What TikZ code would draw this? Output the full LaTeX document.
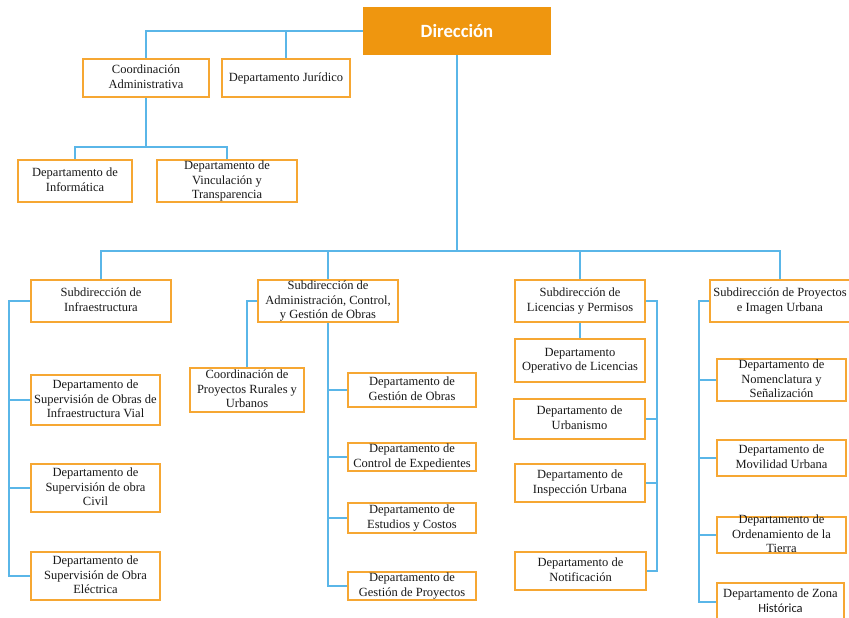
\documentclass[tikz,border=0pt]{standalone}
\usepackage{fontspec}
\newfontfamily\carlito{Carlito}
\newfontfamily\boxserif{Liberation Serif}
\definecolor{dirorange}{HTML}{EF960F}
\definecolor{boxorange}{HTML}{F6A733}
\definecolor{linkblue}{HTML}{5AB6E8}
\newcommand\tx[1]{\smash{\raisebox{-0.25em}{\begin{tabular}{@{}c@{}}#1\end{tabular}}}}
\tikzset{
  box/.style={draw=boxorange, line width=2pt, fill=white, rectangle, inner sep=0pt,
    font=\boxserif\fontsize{12.5}{14.5}\selectfont, text=black!90},
  conn/.style={draw=linkblue, line width=2pt},
  dirbox/.style={fill=dirorange, rectangle, inner sep=0pt, text=white,
    font=\carlito\bfseries\fontsize{18.7}{20}\selectfont},
}
\begin{document}
\begin{tikzpicture}[x=1pt,y=-1pt]
\useasboundingbox (0,0) rectangle (849,618);
\clip (0,0) rectangle (849,618);
% top level
\node[dirbox, minimum width=188pt, minimum height=48pt] (dir) at (457,31) {Dirección};
\node[box, minimum width=126pt, minimum height=38pt] (coord) at (146,78) {\tx{Coordinación\\Administrativa}};
\node[box, minimum width=128pt, minimum height=38pt] (jur) at (286,78) {\tx{Departamento Jurídico}};
\node[box, minimum width=114pt, minimum height=42pt] (info) at (75,181) {\tx{Departamento de\\Informática}};
\node[box, minimum width=140pt, minimum height=42pt] (vinc) at (227,181) {\tx{Departamento de\\Vinculación y\\Transparencia}};
% subdirecciones
\node[box, minimum width=140pt, minimum height=42pt] (infra) at (101,301) {\tx{Subdirección de\\Infraestructura}};
\node[box, minimum width=140pt, minimum height=42pt] (subadm) at (328,301) {\tx{Subdirección de\\Administración, Control,\\y Gestión de Obras}};
\node[box, minimum width=130pt, minimum height=42pt] (sublic) at (580,301) {\tx{Subdirección de\\Licencias y Permisos}};
\node[box, minimum width=140pt, minimum height=42pt] (subproy) at (780,301) {\tx{Subdirección de Proyectos\\e Imagen Urbana}};
% infraestructura
\node[box, minimum width=129pt, minimum height=50pt] (vial) at (95.5,400) {\tx{Departamento de\\Supervisión de Obras de\\Infraestructura Vial}};
\node[box, minimum width=129pt, minimum height=48pt] (civil) at (95.5,488) {\tx{Departamento de\\Supervisión de obra\\Civil}};
\node[box, minimum width=129pt, minimum height=48pt] (elec) at (95.5,576) {\tx{Departamento de\\Supervisión de Obra\\Eléctrica}};
% administracion
\node[box, minimum width=114pt, minimum height=44pt] (cproy) at (247,390) {\tx{Coordinación de\\Proyectos Rurales y\\Urbanos}};
\node[box, minimum width=128pt, minimum height=34pt] (gobras) at (412,390) {\tx{Departamento de\\Gestión de Obras}};
\node[box, minimum width=128pt, minimum height=28pt] (cexp) at (412,457) {\tx{Departamento de\\Control de Expedientes}};
\node[box, minimum width=128pt, minimum height=30pt] (ecost) at (412,518) {\tx{Departamento de\\Estudios y Costos}};
\node[box, minimum width=128pt, minimum height=28pt] (gproy) at (412,586) {\tx{Departamento de\\Gestión de Proyectos}};
% licencias
\node[box, minimum width=130pt, minimum height=43pt] (oper) at (580,360.5) {\tx{Departamento\\Operativo de Licencias}};
\node[box, minimum width=131pt, minimum height=40pt] (urb) at (579.5,419) {\tx{Departamento de\\Urbanismo}};
\node[box, minimum width=130pt, minimum height=38pt] (insp) at (580,483) {\tx{Departamento de\\Inspección Urbana}};
\node[box, minimum width=131pt, minimum height=38pt] (notif) at (580.5,571) {\tx{Departamento de\\Notificación}};
% proyectos
\node[box, minimum width=129pt, minimum height=42pt] (nomen) at (781.5,380) {\tx{Departamento de\\Nomenclatura y\\Señalización}};
\node[box, minimum width=129pt, minimum height=36pt] (movil) at (781.5,458) {\tx{Departamento de\\Movilidad Urbana}};
\node[box, minimum width=129pt, minimum height=36pt] (orden) at (781.5,535) {\tx{Departamento de\\Ordenamiento de la\\Tierra}};
\node[box, minimum width=127pt, minimum height=38pt] (zona) at (780.5,602) {\tx{Departamento de Zona\\{\carlito Histórica}}};
% bus coordinates
\coordinate (busA) at (146,147);
\coordinate (busB) at (457,251);
\coordinate (busL) at (9,0);
\coordinate (busR) at (657,0);
\coordinate (busP) at (699,0);
% connectors
\draw[conn] (dir.west) -| (coord.north);
\draw[conn] (jur.north) -- (jur.north |- dir.west);
\draw[conn] (coord.south) -- (busA);
\draw[conn] (info.north) |- (busA) -| (vinc.north);
\draw[conn] (dir.south) -- (busB);
\draw[conn] (infra.north) |- (busB) -| (subproy.north);
\draw[conn] (subadm.north) -- (subadm.north |- busB);
\draw[conn] (sublic.north) -- (sublic.north |- busB);
\draw[conn] (infra.west) -- (infra.west -| busL) -- (elec.west -| busL) -- (elec.west);
\draw[conn] (vial.west) -- (vial.west -| busL);
\draw[conn] (civil.west) -- (civil.west -| busL);
\draw[conn] (subadm.west) -| (cproy.north);
\draw[conn] (subadm.south) |- (gproy.west);
\draw[conn] (gobras.west) -- (gobras.west -| subadm.south);
\draw[conn] (cexp.west) -- (cexp.west -| subadm.south);
\draw[conn] (ecost.west) -- (ecost.west -| subadm.south);
\draw[conn] (sublic.south) -- (oper.north);
\draw[conn] (sublic.east) -- (sublic.east -| busR) -- (notif.east -| busR) -- (notif.east);
\draw[conn] (urb.east) -- (urb.east -| busR);
\draw[conn] (insp.east) -- (insp.east -| busR);
\draw[conn] (subproy.west) -- (subproy.west -| busP) -- (zona.west -| busP) -- (zona.west);
\draw[conn] (nomen.west) -- (nomen.west -| busP);
\draw[conn] (movil.west) -- (movil.west -| busP);
\draw[conn] (orden.west) -- (orden.west -| busP);
\end{tikzpicture}
\end{document}
